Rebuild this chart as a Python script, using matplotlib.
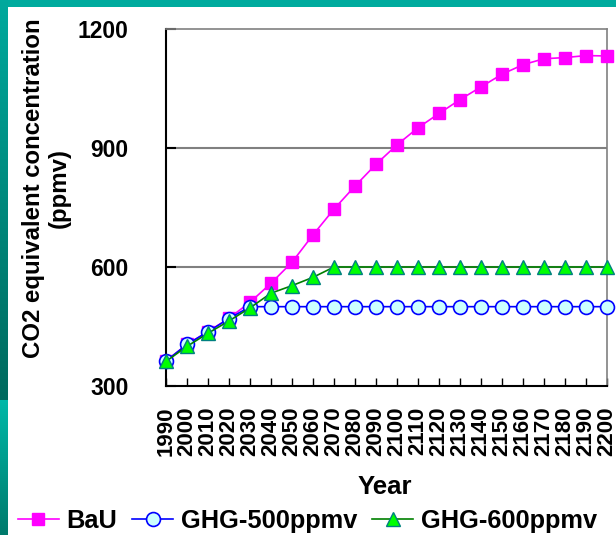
import matplotlib.pyplot as plt
import numpy as np
from matplotlib.colors import LinearSegmentedColormap

# Datos
anios = [1990, 2000, 2010, 2020, 2030, 2040, 2050, 2060, 2070, 2080, 2090,
         2100, 2110, 2120, 2130, 2140, 2150, 2160, 2170, 2180, 2190, 2200]
bau = [363, 405, 437, 471, 511, 559, 612, 681, 746, 804, 859,
       908, 951, 987, 1022, 1054, 1086, 1110, 1125, 1128, 1133, 1132]
ghg500 = [363, 405, 437, 470, 500, 500, 500, 500, 500, 500, 500,
          500, 500, 500, 500, 500, 500, 500, 500, 500, 500, 500]
ghg600 = [362, 400, 433, 464, 497, 534, 553, 574, 600, 600, 600,
          600, 600, 600, 600, 600, 600, 600, 600, 600, 600, 600]
yticks = [300, 600, 900, 1200]

plt.rcParams['font.family'] = ['Liberation Sans', 'DejaVu Sans']
plt.rcParams['font.weight'] = 'bold'

W, H = 616, 535
fig = plt.figure(figsize=(W / 100, H / 100), dpi=100, facecolor='white')

# Borde verde del fondo (franja superior e izquierda)
top = fig.add_axes([0, 1 - 7 / H, 1, 7 / H])
top.set_axis_off()
top.add_patch(plt.Rectangle((0, 0), 1, 1, color='#00AB9E', transform=top.transAxes))
izq = fig.add_axes([0, 0, 8 / W, 1])
izq.set_axis_off()
cm1 = LinearSegmentedColormap.from_list('a', ['#00A99D', '#006A5E'])
cm2 = LinearSegmentedColormap.from_list('b', ['#00B8A8', '#007A6C'])
izq.imshow(cm1(np.linspace(0, 1, 400))[:, None, :], extent=(0, 1, 135, 535), aspect='auto')
izq.imshow(cm2(np.linspace(0, 1, 135))[:, None, :], extent=(0, 1, 0, 135), aspect='auto')
izq.set_xlim(0, 1)
izq.set_ylim(0, 535)

# Área del gráfico
x0, x1, y0, y1 = 166, 607, 29, 386
ax = fig.add_axes([x0 / W, 1 - y1 / H, (x1 - x0) / W, (y1 - y0) / H])

ax.plot(anios, bau, color='#FF00FF', lw=1.2, marker='s', ms=8.5,
        mfc='#FF00FF', mec='#FF00FF', label='BaU', zorder=3, clip_on=False)
ax.plot(anios, ghg500, color='#0000FF', lw=1.2, marker='o', ms=10,
        mfc='#CCFFFF', mec='#0000FF', mew=1.2, label='GHG-500ppmv', zorder=4, clip_on=False)
ax.plot(anios, ghg600, color='#008000', lw=1.2, marker='^', ms=10,
        mfc='#00FF00', mec='#008080', mew=1, label='GHG-600ppmv', zorder=5, clip_on=False)

ax.set_xlim(1990, 2200)
ax.set_ylim(300, 1200)
ax.set_yticks(yticks)
ax.set_yticklabels([str(v) for v in yticks], fontweight='bold', fontsize=16.5)
ax.set_xticks(anios)
ax.set_xticklabels([str(a) for a in anios], fontweight='bold', fontsize=16, rotation=90)

# Líneas de cuadrícula horizontales
for v in [600, 900]:
    ax.axhline(v, color='#808080', lw=1.5, zorder=1)

for lado in ['top', 'right']:
    ax.spines[lado].set_color('#808080')
    ax.spines[lado].set_linewidth(1.2)
for lado in ['left', 'bottom']:
    ax.spines[lado].set_color('black')
    ax.spines[lado].set_linewidth(1.5)

ax.tick_params(axis='y', direction='in', length=7, width=1.5, pad=27)
ax.tick_params(axis='x', direction='in', length=6, width=1, pad=15)

fig.text(46 / W, 1 - 188 / H, 'CO2 equivalent concentration\n(ppmv)', rotation=90,
         ha='center', va='center', fontsize=17.3, fontweight='bold', linespacing=1.15,
         multialignment='center')
fig.text(385 / W, 1 - 487 / H, 'Year', ha='center', va='center', fontsize=18.5,
         fontweight='bold')

fig.legend(loc='center left', bbox_to_anchor=(18 / W, 1 - 521 / H), ncol=3,
           frameon=False, handlelength=1.6, handletextpad=0.3,
           columnspacing=0.6, borderpad=0, borderaxespad=0,
           prop={'weight': 'bold', 'size': 18.3})

plt.savefig('out.png', dpi=100, facecolor='white')
plt.close()
